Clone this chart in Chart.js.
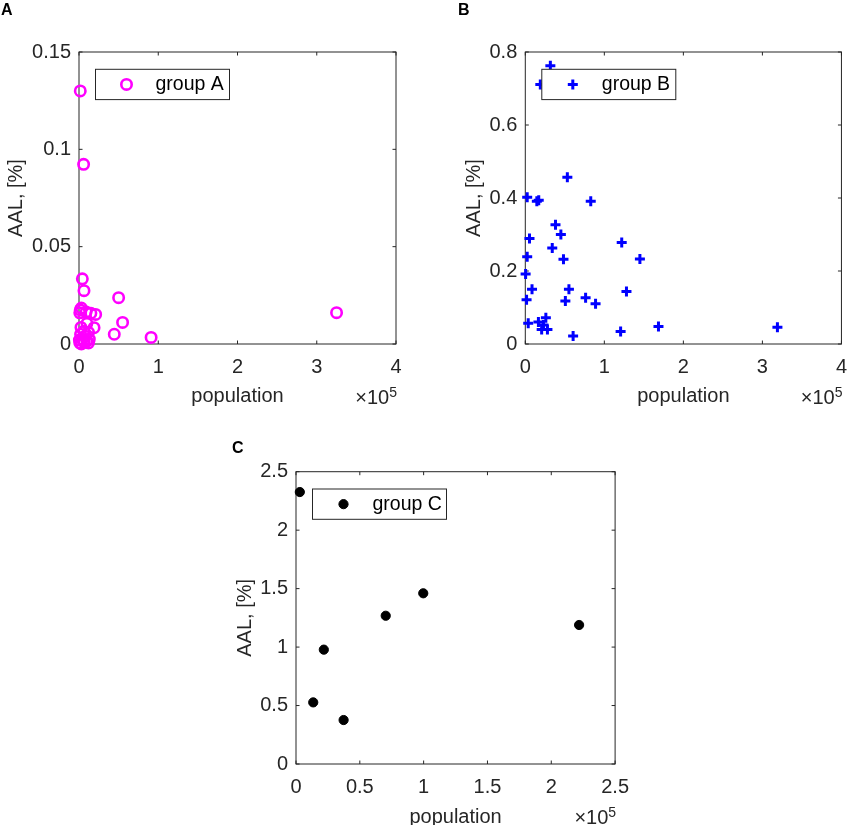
<!DOCTYPE html>
<html><head><meta charset="utf-8">
<script src="https://cdn.jsdelivr.net/npm/chart.js@4.4.1/dist/chart.umd.min.js"></script>
<style>
html,body{margin:0;padding:0;background:#fff;overflow:hidden;width:858px;height:825px}
.pan{position:absolute}
canvas{display:block}
</style></head><body>
<div class="pan" style="left:0;top:0"><canvas id="cA" width="429" height="420"></canvas></div>
<div class="pan" style="left:429px;top:0"><canvas id="cB" width="429" height="420"></canvas></div>
<div class="pan" style="left:200px;top:420px"><canvas id="cC" width="440" height="420"></canvas></div>
<script>
// ---- data ----
const popA = [1600, 5800, 4200, 6300, 50000, 325000, 1600, 1000, 9000, 15000, 21000, 19000, 55000, 44500, 91000,
  3000, 10000, 2500, 6000, 12000, 2000, 8000, 500, 4000, 6500, 10000, 13000, 1000, 3000, 12000];
const aalA = [0.130, 0.0923, 0.0335, 0.0274, 0.0238, 0.0161, 0.0175, 0.0160, 0.0165, 0.0158, 0.0152, 0.0084, 0.0111, 0.0050, 0.0034,
  0.0185, 0.0106, 0.0085, 0.0065, 0.0060, 0.0050, 0.0040, 0.0020, 0.0025, 0.0010, 0.0015, 0.0025, 0.0005, 0.0000, 0.0005];

const popB = [31700, 19000, 53200, 2400, 14600, 17000, 82800, 38200, 45000, 5300, 122000, 34100, 2400, 48300, 145000, 400,
  8500, 55200, 128000, 1600, 50700, 76300, 88900, 3700, 16600, 26000, 20700, 28000, 23000, 60500, 120600, 168500, 319000];
const aalB = [0.762, 0.711, 0.457, 0.402, 0.391, 0.394, 0.391, 0.327, 0.300, 0.289, 0.278, 0.263, 0.239, 0.232, 0.233, 0.192,
  0.150, 0.150, 0.144, 0.121, 0.118, 0.127, 0.110, 0.057, 0.060, 0.072, 0.040, 0.040, 0.052, 0.022, 0.034, 0.048, 0.046];

const popC = [3000, 13500, 21800, 37300, 70300, 99700, 221800];
const aalC = [2.326, 0.527, 0.978, 0.376, 1.268, 1.460, 1.189];

const xTicksAB = [0, 100000, 200000, 300000, 400000];
const xLabelsAB = ['0', '1', '2', '3', '4'];
const xTicksC = [0, 50000, 100000, 150000, 200000, 250000];
const xLabelsC = ['0', '0.5', '1', '1.5', '2', '2.5'];
const yTicksA = [0, 0.05, 0.1, 0.15];
const yLabelsA = ['0', '0.05', '0.1', '0.15'];
const yTicksB = [0, 0.2, 0.4, 0.6, 0.8];
const yLabelsB = ['0', '0.2', '0.4', '0.6', '0.8'];
const yTicksC = [0, 0.5, 1, 1.5, 2, 2.5];
const yLabelsC = ['0', '0.5', '1', '1.5', '2', '2.5'];

const groupNames = ['group A', 'group B', 'group C'];
const panelLetters = ['A', 'B', 'C'];
const xTitle = 'population';
const yTitle = 'AAL, [%]';
const exponentBase = '×10';
const exponentPow = '5';

// ---- rendering ----
const FONT = '"Liberation Sans", Arial, Helvetica, sans-serif';
const AX = '#262626';
Chart.defaults.font.family = FONT;
Chart.defaults.color = AX;

function toPts(xs, ys) { return xs.map((x, i) => ({x: x, y: ys[i]})); }

function makePanel(id, cfg) {
  const framePlugin = {
    id: 'frame' + id,
    beforeDatasetsDraw(chart) {
      const ctx = chart.ctx;
      const {left, top, right, bottom} = chart.chartArea;
      ctx.save();
      ctx.strokeStyle = AX;
      ctx.lineWidth = 1;
      ctx.strokeRect(left, top, right - left, bottom - top);
      const tl = 3.5;
      ctx.beginPath();
      cfg.xTicks.forEach(v => {
        const px = chart.scales.x.getPixelForValue(v);
        ctx.moveTo(px, bottom); ctx.lineTo(px, bottom - tl);
        ctx.moveTo(px, top); ctx.lineTo(px, top + tl);
      });
      cfg.yTicks.forEach(v => {
        const py = chart.scales.y.getPixelForValue(v);
        ctx.moveTo(left, py); ctx.lineTo(left + tl, py);
        ctx.moveTo(right, py); ctx.lineTo(right - tl, py);
      });
      ctx.stroke();
      ctx.restore();
    },
    afterDatasetsDraw(chart) {
      const ctx = chart.ctx;
      const {left, top, right, bottom} = chart.chartArea;
      ctx.save();
      // legend box
      const bx = left + 16.5, by = top + 17.3, bw = 134, bh = 30.3;
      ctx.fillStyle = '#ffffff';
      ctx.fillRect(bx, by, bw, bh);
      ctx.strokeStyle = AX;
      ctx.lineWidth = 1;
      ctx.strokeRect(bx, by, bw, bh);
      ctx.fillStyle = cfg.fill;
      ctx.strokeStyle = cfg.color;
      ctx.lineWidth = cfg.bw;
      Chart.helpers.drawPoint(ctx, {pointStyle: cfg.style, radius: cfg.r, borderWidth: cfg.bw, rotation: 0}, bx + 31, by + bh / 2);
      ctx.fillStyle = '#000000';
      ctx.font = '19.5px ' + FONT;
      ctx.textAlign = 'left';
      ctx.textBaseline = 'middle';
      ctx.fillText(cfg.name, bx + 60, by + bh / 2 + 0.5);
      // exponent
      ctx.fillStyle = AX;
      ctx.font = '14px ' + FONT;
      ctx.textAlign = 'right';
      ctx.textBaseline = 'alphabetic';
      const pw = ctx.measureText(exponentPow).width;
      ctx.fillText(exponentPow, right + 1, bottom + 53);
      ctx.font = '20px ' + FONT;
      ctx.fillText(exponentBase, right + 1 - pw, bottom + 60);
      // panel letter
      ctx.fillStyle = '#000000';
      ctx.font = 'bold 16px ' + FONT;
      ctx.textAlign = 'left';
      ctx.fillText(cfg.letter, cfg.lx, cfg.ly);
      ctx.restore();
    }
  };
  const tickFont = {family: FONT, size: 20};
  return new Chart(document.getElementById(id), {
    type: 'scatter',
    data: {datasets: [{
      label: cfg.name,
      data: cfg.data,
      pointStyle: cfg.style,
      pointRadius: cfg.r,
      pointHoverRadius: cfg.r,
      borderWidth: cfg.bw,
      pointBorderWidth: cfg.bw,
      borderColor: cfg.color,
      backgroundColor: cfg.fill,
      clip: false
    }]},
    options: {
      responsive: false,
      animation: false,
      events: [],
      layout: {padding: cfg.pad},
      plugins: {legend: {display: false}, tooltip: {enabled: false}},
      scales: {
        x: {
          type: 'linear', position: 'bottom', min: cfg.xTicks[0], max: cfg.xTicks[cfg.xTicks.length - 1],
          afterBuildTicks: s => { s.ticks = cfg.xTicks.map(v => ({value: v})); },
          afterFit: s => { s.height = cfg.xH; },
          grid: {display: false, drawTicks: false},
          border: {display: false},
          ticks: {padding: 11, color: AX, font: tickFont, maxRotation: 0, autoSkip: false,
            callback: (v) => cfg.xLabels[cfg.xTicks.indexOf(v)]},
          title: {display: true, text: xTitle, color: AX, font: tickFont, padding: {top: 0, bottom: cfg.xtpb}}
        },
        y: {
          type: 'linear', position: 'left', min: cfg.yTicks[0], max: cfg.yTicks[cfg.yTicks.length - 1],
          afterBuildTicks: s => { s.ticks = cfg.yTicks.map(v => ({value: v})); },
          afterFit: s => { s.width = cfg.yW; },
          grid: {display: false, drawTicks: false},
          border: {display: false},
          ticks: {padding: 8, color: AX, font: tickFont, autoSkip: false,
            callback: (v) => cfg.yLabels[cfg.yTicks.indexOf(v)]},
          title: {display: true, text: yTitle, color: AX, font: tickFont, padding: {top: cfg.ytpt, bottom: 0}}
        }
      }
    },
    plugins: [framePlugin]
  });
}

makePanel('cA', {
  data: toPts(popA, aalA), name: groupNames[0], letter: panelLetters[0], lx: 1, ly: 15,
  style: 'circle', r: 5.2, bw: 2.6, color: '#ff00ff', fill: 'rgba(0,0,0,0)',
  xTicks: xTicksAB, xLabels: xLabelsAB, yTicks: yTicksA, yLabels: yLabelsA,
  pad: {left: 0, top: 52, right: 33, bottom: 6}, yW: 79, xH: 70, xtpb: 5.2, ytpt: 4.8
});
makePanel('cB', {
  data: toPts(popB, aalB), name: groupNames[1], letter: panelLetters[1], lx: 29, ly: 15,
  style: 'cross', r: 5, bw: 3, color: '#0000ff', fill: '#0000ff',
  xTicks: xTicksAB, xLabels: xLabelsAB, yTicks: yTicksB, yLabels: yLabelsB,
  pad: {left: 0, top: 52, right: 4.3, bottom: 6}, yW: 96.3, xH: 70, xtpb: 5.2, ytpt: 33.3
});
makePanel('cC', {
  data: toPts(popC, aalC), name: groupNames[2], letter: panelLetters[2], lx: 32, ly: 33,
  style: 'circle', r: 4.6, bw: 1, color: '#000000', fill: '#000000',
  xTicks: xTicksC, xLabels: xLabelsC, yTicks: yTicksC, yLabels: yLabelsC,
  pad: {left: 0, top: 51.7, right: 15.7, bottom: 0}, yW: 96, xH: 76, xtpb: 10.2, ytpt: 33.8
});
</script>
</body></html>
